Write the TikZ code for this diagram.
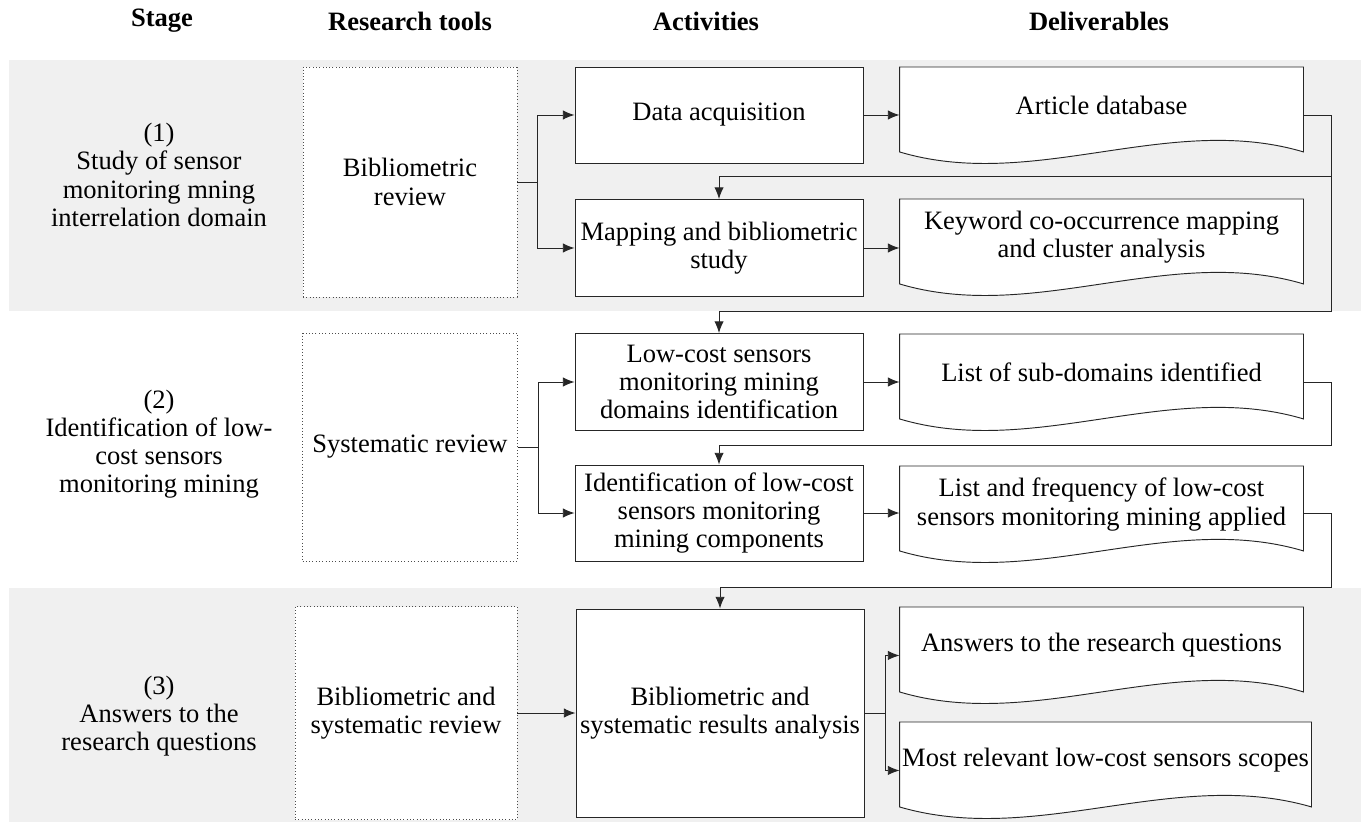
\documentclass[tikz,border=0pt]{standalone}
\usepackage{fontspec}
\setmainfont{Liberation Serif}
\usepackage{tikz}
\usetikzlibrary{arrows.meta,calc,backgrounds}

\newlength\px
\setlength\px{0.426pt}
\definecolor{bandgray}{HTML}{F0F0F0}
\newcommand\boxfont{\fontsize{11.3pt}{12pt}\selectfont}

\tikzset{
  every node/.append style={font=\boxfont},
  tool/.style={draw=black!70, densely dotted, fill=white, align=center, inner sep=0pt},
  activity/.style={draw=black!85, fill=white, align=center, inner sep=0pt},
  deliv/.style={align=center, inner sep=0pt, anchor=north, minimum height=76\px},
  arr/.style={draw=black!85, -{Latex[length=5pt,width=4pt]}},
  header/.style={font=\boxfont\bfseries},
  stagetext/.style={align=center}
}

\begin{document}
\begin{tikzpicture}[x=0.426pt, y=-0.426pt]
  \useasboundingbox (0,0) rectangle (1361,825);
  \begin{pgfonlayer}{background}
    \fill[white] (0,0) rectangle (1361,825);
    \fill[bandgray] (9,60) rectangle (1361,311);
    \fill[bandgray] (9,588) rectangle (1361,822);
  \end{pgfonlayer}

  \node[header] (hstage) at (162,21) {Stage};
  \node[header] (htools) at (410,21) {Research tools};
  \node[header] (hact) at (706,21) {Activities};
  \node[header] (hdel) at (1099,21) {Deliverables};

  \node[stagetext] (stage1) at (159,175) {(1)\\Study of sensor\\monitoring mning\\interrelation domain};
  \node[stagetext] (stage2) at (159,444) {(2)\\Identification of low-\\cost sensors\\monitoring mining};
  \node[stagetext] (stage3) at (159,716) {(3)\\Answers to the\\research questions};

  \node[tool, minimum width=214\px, minimum height=230\px] (tool1) at (410,182) {Bibliometric\\review};
  \node[tool, minimum width=215\px, minimum height=228\px] (tool2) at (410,447) {Systematic review};
  \node[tool, minimum width=222\px, minimum height=213\px] (tool3) at (406,713) {Bibliometric and\\systematic review};

  \node[activity, minimum width=288\px, minimum height=96\px] (act1) at (719,115) {Data acquisition};
  \node[activity, minimum width=288\px, minimum height=97\px] (act2) at (719,248) {Mapping and bibliometric\\study};
  \node[activity, minimum width=288\px, minimum height=97\px] (act3) at (719,382) {Low-cost sensors\\monitoring mining\\domains identification};
  \node[activity, minimum width=288\px, minimum height=96\px] (act4) at (719,513) {Identification of low-cost\\sensors monitoring\\mining components};
  \node[activity, minimum width=288\px, minimum height=208\px] (act5) at (720,713) {Bibliometric and\\systematic results analysis};

  \node[deliv, minimum width=403\px] (del1) at (1101.5,67) {Article database};
  \node[deliv, minimum width=403\px] (del2) at (1101.5,199) {Keyword co-occurrence mapping\\and cluster analysis};
  \node[deliv, minimum width=403\px] (del3) at (1101.5,334) {List of sub-domains identified};
  \node[deliv, minimum width=403\px] (del4) at (1101.5,466) {List and frequency of low-cost\\sensors monitoring mining applied};
  \node[deliv, minimum width=403\px] (del5) at (1101.5,607) {Answers to the research questions};
  \node[deliv, minimum width=411\px] (del6) at (1105.5,722) {Most relevant low-cost sensors scopes};

  \begin{pgfonlayer}{background}
    \foreach \d in {del1,del2,del3,del4,del5,del6}
      \filldraw[fill=white, draw=black!85] ([yshift=-8\px]\d.south west) -- (\d.north west) -- (\d.north east) -- ([yshift=-8\px]\d.south east)
        .. controls ($(\d.south east)!0.333!(\d.south west)+(0,-32)$) and ($(\d.south east)!0.667!(\d.south west)+(0,48)$) .. ([yshift=-8\px]\d.south west) -- cycle;
  \end{pgfonlayer}

  \draw[arr] (tool1.east) -- ++(20,0) |- (act1.west);
  \draw[arr] (tool1.east) -- ++(20,0) |- (act2.west);
  \draw[arr] (tool2.east) -- ++(20,0) |- (act3.west);
  \draw[arr] (tool2.east) -- ++(20,0) |- (act4.west);
  \draw[arr] (tool3.east) -- (act5.west);

  \draw[arr] (act1.east) -- (act1.east -| del1.west);
  \draw[arr] (act2.east) -- (act2.east -| del2.west);
  \draw[arr] (act3.east) -- (act3.east -| del3.west);
  \draw[arr] (act4.east) -- (act4.east -| del4.west);
  \draw[arr] (act5.east) -- ++(21,0) |- ([yshift=-10\px]del5.west);
  \draw[arr] (act5.east) -- ++(21,0) |- ([yshift=-10\px]del6.west);

  \draw[arr] (act1 -| del1.east) -- ++(28,0) -- ++(0,61) -| (act2.north);
  \draw[arr] (act1 -| del1.east) -- ++(28,0) -- ++(0,196) -| (act3.north);
  \draw[arr] (act3 -| del3.east) -- ++(28,0) -- ++(0,63) -| (act4.north);
  \draw[arr] (act4 -| del4.east) -- ++(28,0) -- ++(0,74) -| (act5.north);
\end{tikzpicture}
\end{document}
